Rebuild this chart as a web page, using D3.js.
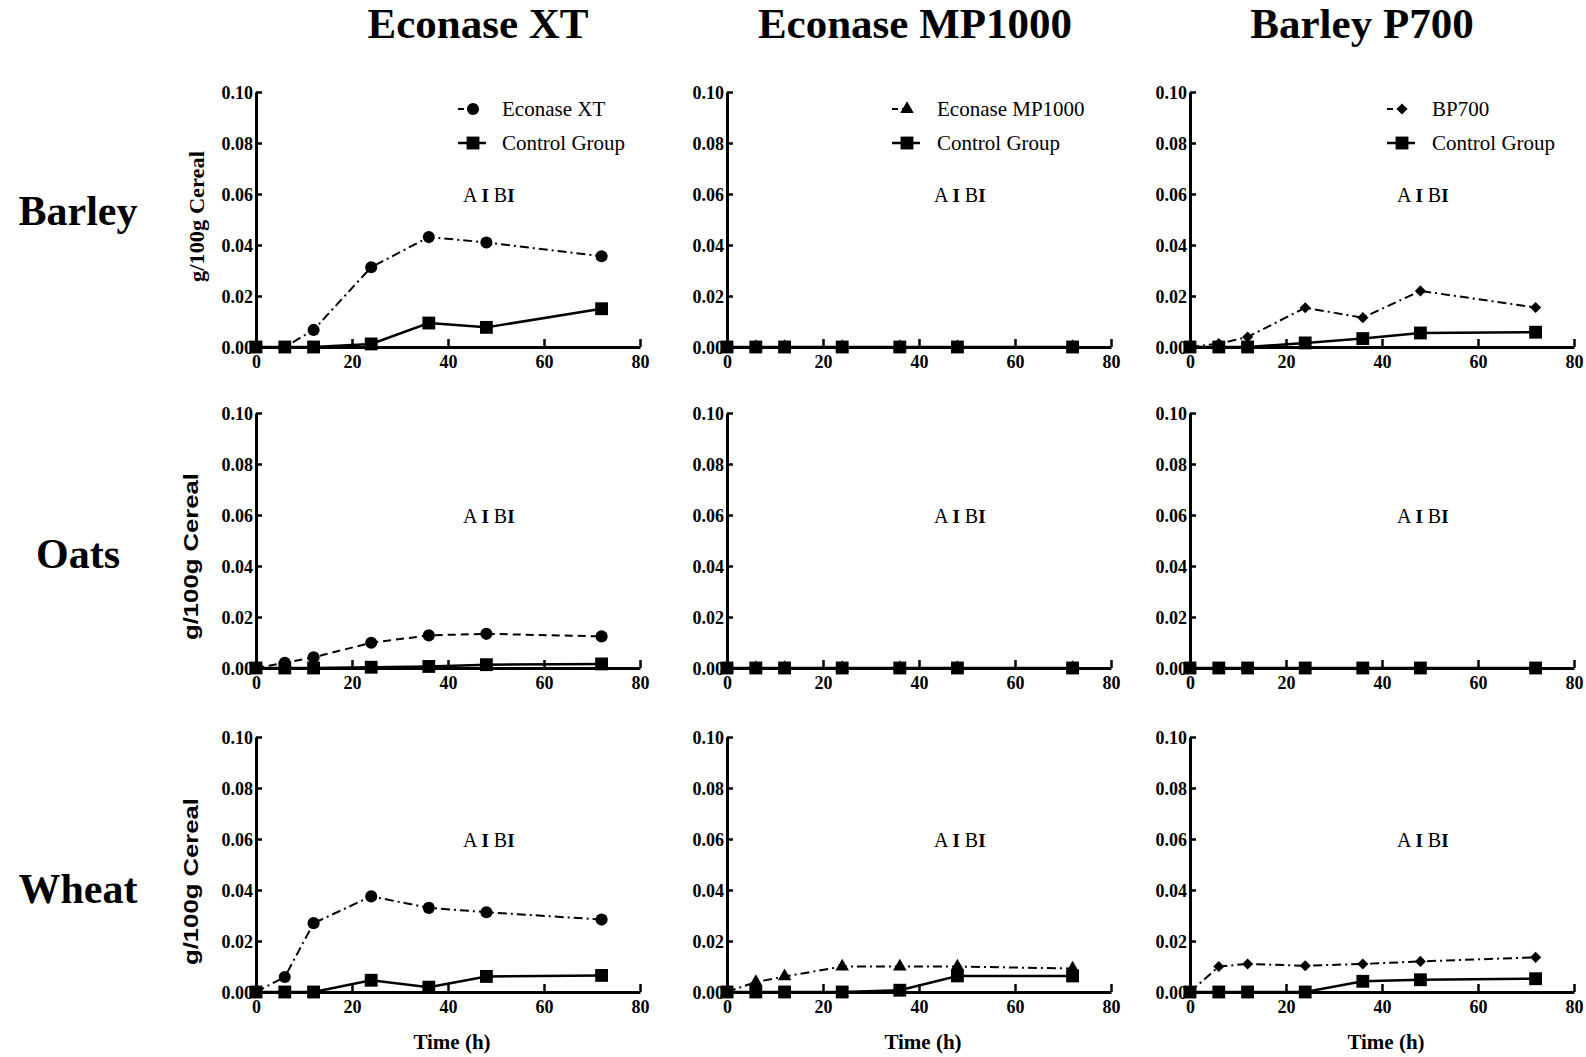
<!DOCTYPE html>
<html>
<head>
<meta charset="utf-8">
<script src="https://cdn.jsdelivr.net/npm/d3@7"></script>
<style>
  body { margin: 0; background: #fff; }
  svg { display: block; }
</style>
</head>
<body>
<script>
// sampling times (h) and panel names
const times = [0, 6, 12, 24, 36, 48, 72];
const cereals = ["Barley", "Oats", "Wheat"];
const enzymes = ["Econase XT", "Econase MP1000", "Barley P700"];
const legendNames = ["Econase XT", "Econase MP1000", "BP700"];
const controlName = "Control Group";
const xTicks = [0, 20, 40, 60, 80];
const yTicks = [0, 0.02, 0.04, 0.06, 0.08, 0.10];

// g/100g cereal
const barleyXT = [0, 0, 0.0067, 0.0313, 0.0431, 0.041, 0.0356];
const barleyXTCtrl = [0, 0, 0, 0.0012, 0.0094, 0.0077, 0.015];
const barleyMP = [0, 0, 0, 0, 0, 0, 0];
const barleyMPCtrl = [0, 0, 0, 0, 0, 0, 0];
const barleyBP = [0, 0.0013, 0.0039, 0.0154, 0.0115, 0.022, 0.0155];
const barleyBPCtrl = [0, 0, 0, 0.0016, 0.0033, 0.0055, 0.0058];

const oatsXT = [0, 0.002, 0.0042, 0.0099, 0.0128, 0.0134, 0.0124];
const oatsXTCtrl = [0, 0, 0, 0.0003, 0.0006, 0.0013, 0.0016];
const oatsMP = [0, 0, 0, 0, 0, 0, 0];
const oatsMPCtrl = [0, 0, 0, 0, 0, 0, 0];
const oatsBP = [0, 0, 0, 0, 0, 0, 0];
const oatsBPCtrl = [0, 0, 0, 0, 0, 0, 0];

const wheatXT = [0, 0.0059, 0.027, 0.0375, 0.033, 0.0313, 0.0284];
const wheatXTCtrl = [0, 0, 0, 0.0046, 0.0019, 0.0061, 0.0065];
const wheatMP = [0, 0.0039, 0.0061, 0.01, 0.01, 0.01, 0.0092];
const wheatMPCtrl = [0, 0, 0, 0, 0.0007, 0.0063, 0.0063];
const wheatBP = [0, 0.01, 0.011, 0.0103, 0.011, 0.012, 0.0136];
const wheatBPCtrl = [0, 0, 0, 0, 0.0042, 0.0048, 0.0052];

const treatment = [
    [barleyXT, barleyMP, barleyBP],
    [oatsXT, oatsMP, oatsBP],
    [wheatXT, wheatMP, wheatBP]
];
const control = [
    [barleyXTCtrl, barleyMPCtrl, barleyBPCtrl],
    [oatsXTCtrl, oatsMPCtrl, oatsBPCtrl],
    [wheatXTCtrl, wheatMPCtrl, wheatBPCtrl]
];

// layout
const serif = "'Liberation Serif', 'Times New Roman', serif";
const sans = "'Liberation Sans', Arial, sans-serif";
const colX = [256, 727, 1190];
const rowY = [92, 413, 737];
const pw = 384, ph = 255;
const titleX = [478, 915, 1362];
const rowLabelY = [225, 568, 903];
const yLabelX = [197, 191, 191];
const yLabelShift = [-3, 16, 17];
const legendMarkX = [217, 180, 212];
const legendTextX = [246, 210, 242];

const svg = d3.select("body").append("svg")
    .attr("width", 1586)
    .attr("height", 1057);

const x = d3.scaleLinear().domain([0, 80]).range([0, pw]);
const y = d3.scaleLinear().domain([0, 0.1]).range([ph, 0]);

const line = d3.line()
    .x(d => x(d[0]))
    .y(d => y(d[1]));

const symbolFor = c => {
    if (c === 0) return { type: d3.symbolCircle, size: 115, rot: 0 };
    if (c === 1) return { type: d3.symbolTriangle, size: 80, rot: 0 };
    return { type: d3.symbolSquare, size: 62, rot: 45 };
};
const squareSym = d3.symbol().type(d3.symbolSquare).size(165);

//Column titles
svg.selectAll(".title").data(enzymes)
    .enter().append("text")
    .attr("x", (d, i) => titleX[i])
    .attr("y", 38)
    .attr("text-anchor", "middle")
    .attr("font-family", serif)
    .attr("font-weight", "bold")
    .attr("font-size", 43)
    .text(d => d);

//Row labels
svg.selectAll(".rowlabel").data(cereals)
    .enter().append("text")
    .attr("x", 78)
    .attr("y", (d, i) => rowLabelY[i])
    .attr("text-anchor", "middle")
    .attr("font-family", serif)
    .attr("font-weight", "bold")
    .attr("font-size", 42)
    .text(d => d);

cereals.forEach((cereal, r) => {
    enzymes.forEach((enzyme, c) => {
        const g = svg.append("g")
            .attr("transform", `translate(${colX[c]},${rowY[r]})`);

        const tData = times.map((t, i) => [t, treatment[r][c][i]]);
        const cData = times.map((t, i) => [t, control[r][c][i]]);
        const dash = (r === 1 && c === 0) ? "8,5" : "9,4,2,4";
        const sym = symbolFor(c);
        const tSym = d3.symbol().type(sym.type).size(sym.size);

        //Axes
        const xAxis = g.append("g")
            .attr("transform", `translate(0,${ph})`)
            .call(d3.axisBottom(x).tickValues(xTicks).tickSizeInner(-8).tickSizeOuter(0).tickPadding(8));
        const yAxis = g.append("g")
            .call(d3.axisLeft(y).tickValues(yTicks).tickSizeInner(-6).tickSizeOuter(0).tickPadding(3)
                .tickFormat(d3.format(".2f")));
        [xAxis, yAxis].forEach(ax => {
            ax.attr("font-family", serif)
                .attr("font-size", 18)
                .attr("font-weight", "bold");
            ax.select(".domain").attr("stroke", "#000").attr("stroke-width", 3);
            ax.selectAll(".tick line").attr("stroke", "#000").attr("stroke-width", 2.5);
            ax.selectAll(".tick text").attr("fill", "#000");
        });
        yAxis.selectAll(".tick text").attr("dy", "0.36em");

        //Treatment line and markers
        g.append("path")
            .datum(tData)
            .attr("d", line)
            .attr("fill", "none")
            .attr("stroke", "#000")
            .attr("stroke-width", 2)
            .attr("stroke-dasharray", dash);
        g.selectAll(".tmark").data(tData)
            .enter().append("path")
            .attr("d", tSym)
            .attr("transform", d => `translate(${x(d[0])},${y(d[1])}) rotate(${sym.rot})`)
            .attr("fill", "#000");

        //Control line and markers
        g.append("path")
            .datum(cData)
            .attr("d", line)
            .attr("fill", "none")
            .attr("stroke", "#000")
            .attr("stroke-width", 2.5);
        g.selectAll(".cmark").data(cData)
            .enter().append("path")
            .attr("d", squareSym)
            .attr("transform", d => `translate(${x(d[0])},${y(d[1])})`)
            .attr("fill", "#000");

        //"A I B I" note
        const note = g.append("text")
            .attr("x", 207)
            .attr("y", 110)
            .attr("font-family", serif)
            .attr("font-size", 20)
            .attr("fill", "#000");
        note.append("tspan").text("A");
        note.append("tspan").attr("dx", 4).attr("font-weight", "bold").attr("font-size", 19).text("I");
        note.append("tspan").attr("dx", 5).text("B");
        note.append("tspan").attr("font-weight", "bold").attr("font-size", 19).text("I");

        //Legend, only on the first row
        if (r === 0) {
            const lg = g.append("g");
            const mx = legendMarkX[c];
            lg.append("line")
                .attr("x1", mx - 15).attr("x2", mx + 12)
                .attr("y1", 17).attr("y2", 17)
                .attr("stroke", "#000").attr("stroke-width", 2)
                .attr("stroke-dasharray", "6,4,2,20");
            lg.append("path")
                .attr("d", tSym)
                .attr("transform", `translate(${mx},17) rotate(${sym.rot})`)
                .attr("fill", "#000");
            lg.append("line")
                .attr("x1", mx - 15).attr("x2", mx + 13)
                .attr("y1", 51).attr("y2", 51)
                .attr("stroke", "#000").attr("stroke-width", 2.5);
            lg.append("path")
                .attr("d", squareSym)
                .attr("transform", `translate(${mx},51)`)
                .attr("fill", "#000");
            lg.selectAll("text").data([legendNames[c], controlName])
                .enter().append("text")
                .attr("x", legendTextX[c])
                .attr("y", (d, i) => 17 + i * 34)
                .attr("dy", "0.35em")
                .attr("font-family", serif)
                .attr("font-size", 21)
                .attr("fill", "#000")
                .text(d => d);
        }

        //Axis titles
        if (c === 0) {
            const yl = svg.append("text")
                .attr("transform", `translate(${yLabelX[r]},${rowY[r] + ph / 2 + yLabelShift[r]}) rotate(-90)`)
                .attr("text-anchor", "middle")
                .attr("dy", "0.35em")
                .attr("font-weight", "bold")
                .attr("fill", "#000")
                .text("g/100g Cereal");
            if (r === 0) {
                yl.attr("font-family", serif).attr("font-size", 20)
                    .attr("textLength", 131).attr("lengthAdjust", "spacingAndGlyphs");
            } else {
                yl.attr("font-family", sans).attr("font-size", 21)
                    .attr("textLength", 167).attr("lengthAdjust", "spacingAndGlyphs");
            }
        }
        if (r === 2) {
            g.append("text")
                .attr("x", pw / 2 + 4)
                .attr("y", ph + 57)
                .attr("text-anchor", "middle")
                .attr("font-family", serif)
                .attr("font-weight", "bold")
                .attr("font-size", 21)
                .attr("fill", "#000")
                .text("Time (h)");
        }
    });
});
</script>
</body>
</html>
